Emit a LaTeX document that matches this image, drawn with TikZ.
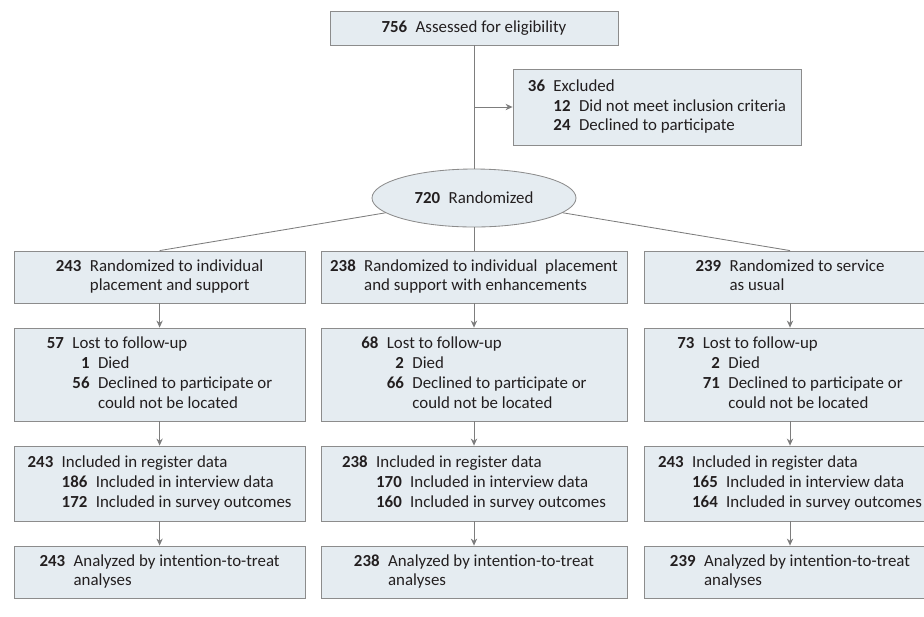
\documentclass[tikz,border=0pt]{standalone}
\usepackage{fontspec}
\setmainfont{Carlito}
\usepackage{xcolor}
\definecolor{boxfill}{RGB}{229,236,241}
\definecolor{boxline}{RGB}{140,140,140}
\definecolor{linkgray}{RGB}{125,125,125}
\definecolor{inkdark}{RGB}{35,31,32}
\usepackage{tikz}
\usetikzlibrary{
  shapes.geometric,
  arrows.meta,
  positioning
}
\newcommand{\cnt}[1]{\textbf{#1}}
\newcommand{\colgap}{\hspace{0.5em}}

\begin{document}
\begin{tikzpicture}[
  box/.style={rectangle, draw=boxline, fill=boxfill, line width=0.6pt, inner sep=0pt, text=inkdark, font=\fontsize{12}{14.2}\selectfont},
  oval/.style={ellipse, draw=boxline, fill=boxfill, line width=0.6pt, inner sep=0pt, text=inkdark, font=\fontsize{12}{14.2}\selectfont},
  link/.style={draw=linkgray, line width=0.6pt},
  arr/.style={-{Stealth[length=5pt, width=4.5pt]}, link}
]
  \useasboundingbox (0,0) rectangle (23.1,-15.4);

  \node[box, minimum width=7.2cm, minimum height=0.85cm] (assess) at (11.85,-0.7) {\cnt{756}\colgap Assessed for eligibility};

  \node[box, minimum width=7.2cm, minimum height=1.9cm] (excl) at (16.425,-2.675) {\begin{tabular}{@{}r@{\colgap}r@{\colgap}l@{}}
    \cnt{36} & \multicolumn{2}{@{}l@{}}{Excluded}\\
    & \cnt{12} & Did not meet inclusion criteria\\
    & \cnt{24} & Declined to participate
  \end{tabular}};

  \node[oval, minimum width=5.1cm, minimum height=1.45cm] (rand) at (11.85,-4.95) {\cnt{720}\colgap Randomized};

  % randomized arms
  \node[box, minimum width=7.275cm, minimum height=1.3cm] (ips) at (3.99,-6.925) {\begin{tabular}{@{}r@{\colgap}l@{}}
    \cnt{243} & Randomized to individual\\
    & placement and support
  \end{tabular}};
  \node[box, minimum width=7.65cm, minimum height=1.3cm] (ipse) at (11.85,-6.925) {\begin{tabular}{@{}r@{\colgap}l@{}}
    \cnt{238} & Randomized to individual\ \ placement\\
    & and support with enhancements
  \end{tabular}};
  \node[box, minimum width=7.3cm, minimum height=1.3cm] (sau) at (19.75,-6.925) {\begin{tabular}{@{}r@{\colgap}l@{}}
    \cnt{239} & Randomized to service\\
    & as usual
  \end{tabular}};

  % follow-up
  \node[box, minimum width=7.275cm, minimum height=2.325cm] (ipslost) at (3.99,-9.3625) {\begin{tabular}{@{}r@{\colgap}r@{\colgap}l@{}}
    \cnt{57} & \multicolumn{2}{@{}l@{}}{Lost to follow-up}\\
    & \cnt{1} & Died\\
    & \cnt{56} & Declined to participate or\\
    & & could not be located
  \end{tabular}};
  \node[box, minimum width=7.65cm, minimum height=2.325cm] (ipselost) at (11.85,-9.3625) {\begin{tabular}{@{}r@{\colgap}r@{\colgap}l@{}}
    \cnt{68} & \multicolumn{2}{@{}l@{}}{Lost to follow-up}\\
    & \cnt{2} & Died\\
    & \cnt{66} & Declined to participate or\\
    & & could not be located
  \end{tabular}};
  \node[box, minimum width=7.3cm, minimum height=2.325cm] (saulost) at (19.75,-9.3625) {\begin{tabular}{@{}r@{\colgap}r@{\colgap}l@{}}
    \cnt{73} & \multicolumn{2}{@{}l@{}}{Lost to follow-up}\\
    & \cnt{2} & Died\\
    & \cnt{71} & Declined to participate or\\
    & & could not be located
  \end{tabular}};

  % data sources
  \node[box, minimum width=7.275cm, minimum height=1.875cm] (ipsdata) at (3.99,-12.0875) {\begin{tabular}{@{}r@{\colgap}r@{\colgap}l@{}}
    \cnt{243} & \multicolumn{2}{@{}l@{}}{Included in register data}\\
    & \cnt{186} & Included in interview data\\
    & \cnt{172} & Included in survey outcomes
  \end{tabular}};
  \node[box, minimum width=7.65cm, minimum height=1.875cm] (ipsedata) at (11.85,-12.0875) {\begin{tabular}{@{}r@{\colgap}r@{\colgap}l@{}}
    \cnt{238} & \multicolumn{2}{@{}l@{}}{Included in register data}\\
    & \cnt{170} & Included in interview data\\
    & \cnt{160} & Included in survey outcomes
  \end{tabular}};
  \node[box, minimum width=7.3cm, minimum height=1.875cm] (saudata) at (19.75,-12.0875) {\begin{tabular}{@{}r@{\colgap}r@{\colgap}l@{}}
    \cnt{243} & \multicolumn{2}{@{}l@{}}{Included in register data}\\
    & \cnt{165} & Included in interview data\\
    & \cnt{164} & Included in survey outcomes
  \end{tabular}};

  % analysis
  \node[box, minimum width=7.275cm, minimum height=1.3cm] (ipsitt) at (3.99,-14.3) {\begin{tabular}{@{}r@{\colgap}l@{}}
    \cnt{243} & Analyzed by intention-to-treat\\
    & analyses
  \end{tabular}};
  \node[box, minimum width=7.65cm, minimum height=1.3cm] (ipseitt) at (11.85,-14.3) {\begin{tabular}{@{}r@{\colgap}l@{}}
    \cnt{238} & Analyzed by intention-to-treat\\
    & analyses
  \end{tabular}};
  \node[box, minimum width=7.3cm, minimum height=1.3cm] (sauitt) at (19.75,-14.3) {\begin{tabular}{@{}r@{\colgap}l@{}}
    \cnt{239} & Analyzed by intention-to-treat\\
    & analyses
  \end{tabular}};

  \coordinate (exclsplit) at (assess.south |- excl.west);

  \draw[link] (assess) -- (rand);
  \draw[arr] (exclsplit) -- (excl);
  \draw[link] (rand) -- (ips.north);
  \draw[link] (rand) -- (ipse.north);
  \draw[link] (rand) -- (sau.north);

  \draw[arr] (ips) -- (ipslost);
  \draw[arr] (ipslost) -- (ipsdata);
  \draw[arr] (ipsdata) -- (ipsitt);
  \draw[arr] (ipse) -- (ipselost);
  \draw[arr] (ipselost) -- (ipsedata);
  \draw[arr] (ipsedata) -- (ipseitt);
  \draw[arr] (sau) -- (saulost);
  \draw[arr] (saulost) -- (saudata);
  \draw[arr] (saudata) -- (sauitt);
\end{tikzpicture}
\end{document}
